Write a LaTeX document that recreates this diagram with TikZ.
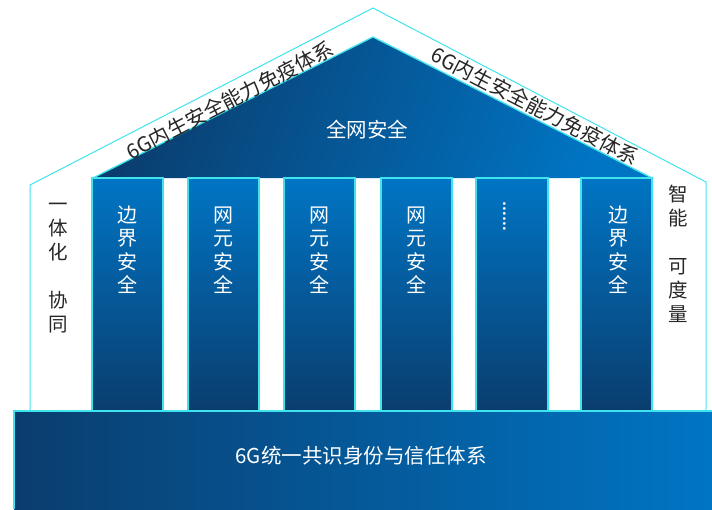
\documentclass[tikz,border=0pt]{standalone}
\usepackage{fontspec}
\setmainfont{Noto Sans CJK SC}
\newfontfamily\cjk{Noto Sans CJK SC}
\definecolor{edgecyan}{HTML}{3FE3EE}
\definecolor{bright}{HTML}{0075C4}
\definecolor{navy}{HTML}{0A3D6E}
\tikzset{
  edge/.style={draw=edgecyan, line width=1.3pt},
  pillar/.style={edge, top color=bright, bottom color=navy},
  coltext/.style={text=white, align=center, font=\cjk\fontsize{20}{23.5}\selectfont},
  sidetext/.style={text=black!85, align=center, font=\cjk\fontsize{19.5}{24}\selectfont},
  rooftext/.style={text=black!85, font=\cjk\fontsize{20.5}{22}\selectfont},
  bigtext/.style={text=white, font=\cjk\fontsize{20.5}{22}\selectfont}
}
\begin{document}
\begin{tikzpicture}[x=1pt,y=-1pt]
\useasboundingbox (0,0) rectangle (712,509);
% outer house outline
\draw[edgecyan, line width=1pt] (30,411) -- (30,185) -- (373,8) -- (706,182) -- (706,411);
% pediment
\shade[left color=navy, right color=bright, shading angle=70] (93,178) -- (373,37) -- (652,178) -- cycle;
\draw[edge] (93,178) -- (373,37) -- (652,178);
% pillars
\draw[pillar] (92,178) rectangle (163,411);
\draw[pillar] (188,178) rectangle (259,411);
\draw[pillar] (284,178) rectangle (355,411);
\draw[pillar] (381,178) rectangle (452,411);
\draw[pillar] (476,178) rectangle (548,411);
\draw[pillar] (581,178) rectangle (652,411);
% base
\shade[left color=navy, right color=bright] (14,411) rectangle (712,509);
\draw[edge] (14,509) -- (14,411) -- (712,411);
% texts
\node[bigtext] (top) at (367,130) {全网安全};
\node[rooftext, rotate=27.4] (roofl) at (230,100) {6G内生安全能力免疫体系};
\node[rooftext, rotate=-27.4] (roofr) at (535,106) {6G内生安全能力免疫体系};
\node[coltext] (c1) at (127.5,250) {边\\界\\安\\全};
\node[coltext] (c2) at (223.5,250) {网\\元\\安\\全};
\node[coltext] (c3) at (319.5,250) {网\\元\\安\\全};
\node[coltext] (c4) at (416.5,250) {网\\元\\安\\全};
\node[text=white, font=\cjk\fontsize{13}{14}\bfseries\selectfont, rotate=-90] (c5) at (505,216) {……};
\node[coltext] (c6) at (618,250) {边\\界\\安\\全};
\node[sidetext] (left) at (58,268) {一\\体\\化\\[24pt]协\\同};
\node[sidetext] (right) at (678,254) {智\\能\\[24pt]可\\度\\量};
\node[bigtext] (base) at (361,456) {6G统一共识身份与信任体系};
\end{tikzpicture}
\end{document}
